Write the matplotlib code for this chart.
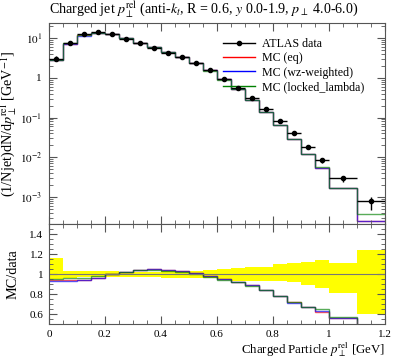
import numpy as np
import matplotlib
matplotlib.use("Agg")
import matplotlib.pyplot as plt
from matplotlib.ticker import FuncFormatter, MultipleLocator, LogLocator, NullFormatter
from matplotlib.lines import Line2D

plt.rcParams["font.family"] = ["Liberation Serif", "DejaVu Serif"]
plt.rcParams["mathtext.fontset"] = "stix"

# bin edges (GeV)
edges = [0.0, 0.05, 0.10, 0.15, 0.20, 0.25, 0.30, 0.35, 0.40, 0.45, 0.50, 0.55,
         0.60, 0.65, 0.70, 0.75, 0.80, 0.85, 0.90, 0.95, 1.00, 1.10, 1.20]

# ATLAS data
data = [3.0, 7.7, 12.4, 14.0, 12.7, 9.6, 7.4, 5.8, 4.3, 3.26, 2.3, 1.56,
        0.96, 0.57, 0.31, 0.166, 0.083, 0.040, 0.018, 0.0086, 0.0030, 0.00080]
# relative data uncertainty (up, down)
err_up = [0.16, 0.035, 0.033, 0.033, 0.03, 0.025, 0.025, 0.025, 0.035, 0.035, 0.035, 0.04,
          0.047, 0.06, 0.07, 0.075, 0.105, 0.11, 0.117, 0.145, 0.115, 0.24]
err_dn = [0.045, 0.035, 0.03, 0.03, 0.03, 0.025, 0.025, 0.025, 0.035, 0.035, 0.035, 0.04,
          0.05, 0.07, 0.07, 0.07, 0.07, 0.08, 0.105, 0.14, 0.19, 0.40]

# MC predictions
mc_eq = [2.82, 7.20, 11.66, 13.51, 12.70, 9.84, 7.70, 6.09, 4.47, 3.35, 2.33, 1.533,
         0.912, 0.524, 0.2756, 0.1391, 0.0646, 0.02868, 0.01201, 0.00529, 0.001686, 0.000255]
mc_wz = [2.80, 7.18, 11.62, 13.44, 12.68, 9.82, 7.69, 6.08, 4.455, 3.35, 2.33, 1.535,
         0.914, 0.525, 0.2760, 0.1390, 0.0645, 0.02860, 0.01205, 0.00542, 0.001680, 0.000250]
mc_locked = [2.856, 7.36, 11.93, 13.79, 12.73, 9.84, 7.66, 6.06, 4.45, 3.33, 2.31, 1.521,
             0.907, 0.5216, 0.2734, 0.1394, 0.0646, 0.0288, 0.01215, 0.00557, 0.00170, 0.000366]

labels = ["MC (eq)", "MC (wz-weighted)", "MC (locked_lambda)"]
colors = ["red", "blue", "green"]

edges = np.array(edges)
data = np.array(data)
centers = 0.5 * (edges[:-1] + edges[1:])
halfw = 0.5 * np.diff(edges)
up = np.array(err_up)
dn = np.array(err_dn)

W, H = 397, 358
fig = plt.figure(figsize=(W / 100, H / 100), dpi=100)
ax = fig.add_axes([49 / W, 1 - 224 / H, 336 / W, 201 / H])
rax = fig.add_axes([49 / W, 1 - 324 / H, 336 / W, 100 / H], sharex=ax)

fs = 9.3
tfs = 8.0
tc = "#555555"

# main panel
for vals, c in zip([mc_eq, mc_wz, mc_locked], colors):
    ax.stairs(vals, edges, color=c, lw=1.0, alpha=0.65, baseline=None)
ax.errorbar(centers, data, xerr=halfw, yerr=[data * dn, data * up], fmt="o", ms=3,
            color="black", lw=1.0, capsize=0, zorder=5)
ax.set_yscale("log")
ax.set_ylim(2.1e-4, 24)
ax.set_xlim(0, 1.2)


def logfmt(v, pos):
    e = int(round(np.log10(v)))
    if e == 0:
        return "1"
    return r"$10^{%d}$" % e


ax.yaxis.set_major_locator(LogLocator(base=10, numticks=10))
ax.yaxis.set_minor_locator(LogLocator(base=10, subs=np.arange(2, 10), numticks=20))
ax.yaxis.set_major_formatter(FuncFormatter(logfmt))
ax.yaxis.set_minor_formatter(NullFormatter())
ax.set_ylabel(r"(1/Njet)dN/d$p_{\perp}^{\rm rel}$ [GeV$^{-1}$]", fontsize=10.3)
ax.yaxis.set_label_coords(-0.088, 0.5)
ax.tick_params(labelbottom=False)
ax.set_title(r"Charged jet $p_{\perp}^{\rm rel}$ (anti-$k_t$, R = 0.6, $y$ 0.0-1.9, $p_{\perp}$ 4.0-6.0)",
             fontsize=10.1, loc="left", pad=6)

handles = [Line2D([], [], color="black", marker="o", ms=3, lw=1.0)]
handles += [Line2D([], [], color=c, lw=1.0) for c in colors]
ax.legend(handles, ["ATLAS data"] + labels, loc="upper left", frameon=False, fontsize=8.6,
          bbox_to_anchor=(0.505, 0.95), handlelength=2.6, handletextpad=0.6,
          labelspacing=0.2, borderaxespad=0.0)

# ratio panel
rax.stairs(1 + up, edges, baseline=1 - dn, fill=True, color="#ffff00", lw=0)
rax.axhline(1, color="#777777", lw=0.8)
for vals, c in zip([mc_eq, mc_wz, mc_locked], colors):
    rax.stairs(np.array(vals) / data, edges, color=c, lw=1.0, alpha=0.65, baseline=None)
rax.set_ylim(0.5, 1.5)
rax.set_xlim(0, 1.2)
rax.yaxis.set_major_locator(MultipleLocator(0.2))
rax.yaxis.set_minor_locator(MultipleLocator(0.05))
rax.yaxis.set_major_formatter(FuncFormatter(lambda v, p: "1" if abs(v - 1) < 1e-6 else "%g" % v))
rax.xaxis.set_major_locator(MultipleLocator(0.2))
rax.xaxis.set_minor_locator(MultipleLocator(0.05))
rax.xaxis.set_major_formatter(FuncFormatter(lambda v, p: "%g" % v))
rax.set_ylabel("MC/data", fontsize=10.3)
rax.yaxis.set_label_coords(-0.088, 0.5)
rax.set_xlabel(r"Charged Particle $p_{\perp}^{\rm rel}$ [GeV]", fontsize=fs, loc="right")
rax.xaxis.set_label_coords(1.0, -0.165)

for a in (ax, rax):
    for s in a.spines.values():
        s.set_color(tc)
        s.set_linewidth(0.8)
    a.tick_params(which="both", direction="in", top=True, right=True, colors=tc,
                  labelcolor="black", labelsize=tfs)
    a.tick_params(which="major", length=6, width=0.8)
    a.tick_params(which="minor", length=3, width=0.6)
ax.tick_params(axis="y", pad=5)
rax.tick_params(axis="y", pad=4)
rax.tick_params(axis="x", pad=4)

fig.savefig("out.png", dpi=100)
